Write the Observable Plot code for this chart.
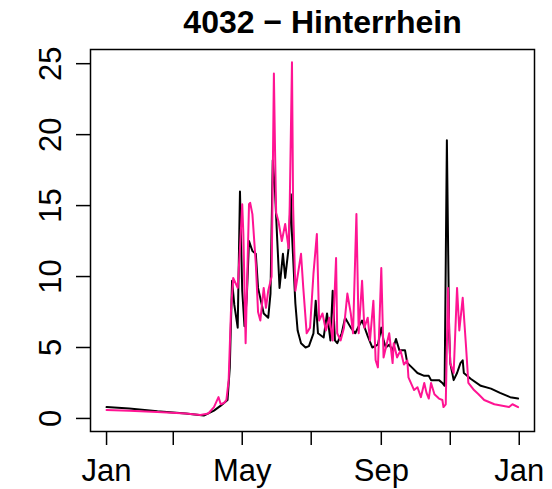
<!DOCTYPE html>
<html>
<head>
<meta charset="utf-8">
<script src="https://cdn.jsdelivr.net/npm/d3@7"></script>
<script src="https://cdn.jsdelivr.net/npm/@observablehq/plot@0.6"></script>
<style>
  html, body { margin: 0; padding: 0; background: #fff; }
  #chart svg { display: block; }
</style>
</head>
<body>
<div id="chart"></div>
<script>
// ---- data ----
const chartTitle = "4032 − Hinterrhein";
const year = 2001;

// observed discharge (black): day of year, value
const obsDays = [0, 20, 45, 70, 86, 95, 101, 107, 109, 111, 113, 116, 118, 120, 122, 124, 126, 129, 132, 134, 139, 143, 145, 147, 149, 151, 153, 156, 158, 161, 163, 164, 167, 169, 172, 176, 179, 183, 185, 187, 192, 195, 198, 200, 202, 204, 208, 211, 216, 220, 223, 226, 231, 235, 240, 243, 245, 247, 250, 253, 256, 259, 264, 266, 270, 275, 281, 285, 287, 294, 297, 299, 301, 303, 304, 307, 310, 313, 315, 316, 322, 331, 340, 348, 357, 364];
const obsValues = [0.8, 0.7, 0.5, 0.35, 0.2, 0.55, 0.9, 1.3, 3.6, 9.7, 8.0, 6.4, 16.0, 9.0, 6.5, 8.5, 12.5, 11.8, 11.6, 9.2, 7.4, 7.1, 8.8, 18.2, 16.0, 12.5, 9.2, 11.6, 9.9, 12.0, 15.8, 13.0, 8.1, 6.2, 5.3, 5.0, 5.1, 6.0, 8.3, 6.0, 5.7, 7.4, 5.5, 9.0, 5.5, 5.3, 6.0, 7.1, 6.4, 6.0, 6.5, 6.9, 5.8, 5.0, 5.2, 6.4, 5.5, 5.0, 5.2, 4.8, 5.6, 4.8, 4.8, 3.9, 3.6, 3.2, 3.0, 3.0, 2.7, 2.7, 2.5, 2.3, 19.6, 6.0, 3.9, 2.7, 3.2, 3.9, 4.1, 3.2, 2.8, 2.3, 2.1, 1.8, 1.5, 1.4];

// simulated discharge (pink): day of year, value
const simDays = [0, 20, 45, 70, 83, 90, 95, 99, 101, 104, 106, 108, 110, 112, 116, 118, 120, 121, 123, 126, 127, 129, 132, 134, 136, 139, 141, 143, 146, 148, 149, 150, 152, 155, 158, 161, 162, 164, 165, 167, 172, 174, 177, 180, 183, 186, 188, 191, 194, 197, 200, 203, 204, 207, 210, 213, 216, 218, 221, 223, 226, 228, 231, 233, 236, 238, 240, 243, 245, 250, 253, 254, 257, 260, 263, 266, 267, 272, 275, 278, 281, 283, 285, 287, 290, 294, 297, 298, 300, 302, 304, 307, 310, 312, 315, 318, 320, 325, 329, 334, 343, 350, 356, 359, 364];
const simValues = [0.6, 0.55, 0.45, 0.35, 0.25, 0.35, 0.8, 1.5, 1.0, 1.1, 1.3, 2.7, 7.5, 9.9, 9.2, 12.0, 15.1, 13.0, 5.3, 15.1, 15.2, 14.4, 10.9, 7.5, 6.9, 9.2, 7.8, 9.0, 10.0, 24.3, 19.0, 14.5, 13.9, 12.5, 13.7, 12.0, 15.0, 25.1, 15.0, 9.0, 11.6, 9.2, 6.0, 6.4, 10.2, 13.0, 6.9, 7.4, 6.2, 7.1, 5.5, 11.3, 6.0, 5.5, 6.4, 8.8, 7.4, 6.0, 14.4, 6.0, 9.7, 6.4, 7.1, 5.5, 8.3, 4.1, 3.6, 10.6, 4.3, 6.0, 3.9, 5.3, 4.3, 4.8, 3.8, 4.1, 2.9, 2.0, 2.2, 1.5, 2.5, 1.8, 1.4, 2.5, 1.7, 1.4, 1.3, 0.8, 1.0, 9.2, 3.9, 3.2, 9.2, 6.2, 8.5, 5.0, 2.5, 2.0, 1.7, 1.3, 1.0, 0.9, 0.8, 1.0, 0.8];

// axis ticks
const xTickMonths = [0, 2, 4, 6, 8, 10, 12];
const xTickLabels = ["Jan", "", "May", "", "Sep", "", "Jan"];
const yTicks = [0, 5, 10, 15, 20, 25];

// ---- build ----
const base = Date.UTC(year, 0, 1);
const toDate = d => new Date(base + d * 864e5);
const obs = obsDays.map((d, i) => ({date: toDate(d), value: obsValues[i]}));
const sim = simDays.map((d, i) => ({date: toDate(d), value: simValues[i]}));
const xTicks = xTickMonths.map(m => new Date(Date.UTC(year, m, 1)));
const labelOf = new Map(xTicks.map((t, i) => [+t, xTickLabels[i]]));

const font = "'Liberation Sans', Arial, Helvetica, sans-serif";

const plot = Plot.plot({
  width: 552,
  height: 489,
  marginLeft: 90,
  marginRight: 18,
  marginTop: 49,
  marginBottom: 58,
  style: {fontFamily: font, background: "#fff", color: "#000"},
  x: {type: "utc", domain: [toDate(-14.2), toDate(378.5)], axis: null, label: null},
  y: {domain: [-0.92, 26.0], axis: null, label: null},
  marks: [
    Plot.axisX(xTicks, {
      tickSize: 14, tickPadding: 13, fontSize: 31, strokeWidth: 1.5, label: null,
      tickFormat: d => labelOf.get(+d)
    }),
    Plot.axisY(yTicks, {
      tickSize: 14, strokeWidth: 1.5, label: null, tickFormat: () => ""
    }),
    Plot.text(yTicks, {
      y: d => d, text: d => String(d), frameAnchor: "left", dx: -30,
      rotate: -90, textAnchor: "middle", lineAnchor: "bottom", fontSize: 31, fill: "#000"
    }),
    Plot.line(obs, {x: "date", y: "value", stroke: "#000000", strokeWidth: 2}),
    Plot.line(sim, {x: "date", y: "value", stroke: "#FF1493", strokeWidth: 2}),
    Plot.frame({stroke: "#000", strokeWidth: 1.5}),
    Plot.text([chartTitle], {
      frameAnchor: "top", dx: 10, dy: -17, lineAnchor: "bottom",
      fontSize: 32, fontWeight: "bold", fill: "#000"
    })
  ]
});

document.getElementById("chart").appendChild(plot);
</script>
</body>
</html>
